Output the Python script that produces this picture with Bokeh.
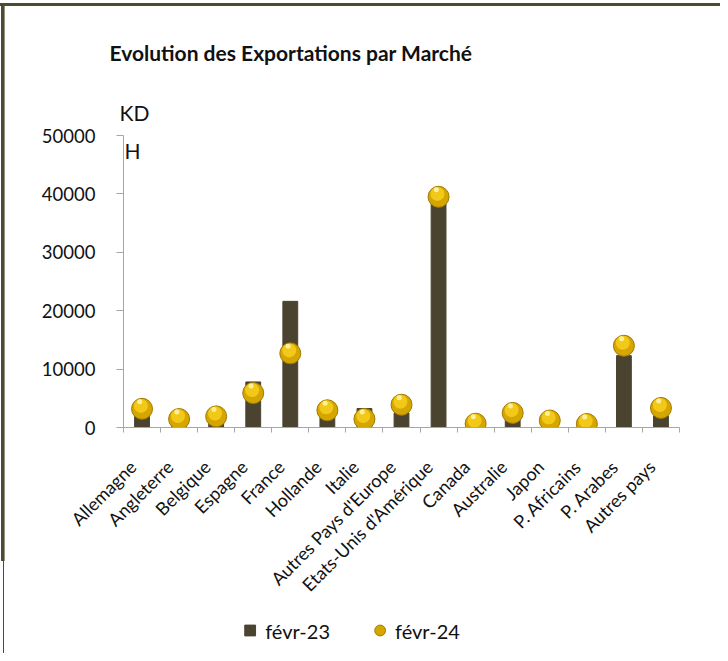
from math import pi
from bokeh.plotting import figure
from bokeh.layouts import column
from bokeh.models import (Range1d, LinearAxis, FixedTicker, Legend, LegendItem, Label, Title,
                          ColumnDataSource)
from bokeh.transform import dodge
from bokeh.embed import file_html
from bokeh.resources import INLINE

# ---- data ----
markets = ["Allemagne", "Angleterre", "Belgique", "Espagne", "France", "Hollande", "Italie",
           "Autres Pays d'Europe", "Etats-Unis d'Amérique", "Canada", "Australie", "Japon",
           "P. Africains", "P. Arabes", "Autres pays"]
feb23 = [2200, 900, 1100, 7800, 21600, 1800, 3250, 2500, 38800, 350, 1500, 450, 250, 12300, 2000]
feb24 = [3200, 1450, 1900, 5900, 12700, 2950, 1450, 3900, 39500, 650, 2500, 1200, 600, 14000, 3350]
y_ticks = [0, 10000, 20000, 30000, 40000, 50000]
series_names = ["févr-23", "févr-24"]
title_text = "Evolution des Exportations par Marché"
unit_top, unit_bottom = "KD", "H"

FONT = "Lato"
BAR = "#4a4330"
AXIS = "#a6a6a6"
TXT = "#111111"
FRAME = "#4f4b30"
GOLD = dict(fill_color="#d6a600", line_color="#a07a00", line_width=1)

n = len(markets)
slot = list(range(n))
src = ColumnDataSource(dict(slot=slot, market=markets, feb23=feb23, feb24=feb24))

W, H_MAIN, H_LEG = 720, 607, 46

p = figure(x_range=Range1d(0, n), y_range=Range1d(0, y_ticks[-1]),
           width=W, height=H_MAIN, output_backend="svg", toolbar_location=None,
           x_axis_location=None, y_axis_location="left",
           min_border_left=123, min_border_right=41, min_border_top=135, min_border_bottom=180)
p.outline_line_color = None
p.xgrid.visible = False
p.ygrid.visible = False
p.background_fill_color = "white"
p.border_fill_color = None

# chart title (outer) and unit "KD" (nearest the frame)
p.title.text = title_text
p.title.text_font = FONT
p.title.text_font_size = "21px"
p.title.text_font_style = "bold"
p.title.text_color = TXT
p.title.align = "left"
p.title.offset = -14
p.title.standoff = 46
p.add_layout(Title(text=unit_top, text_font=FONT, text_font_size="21px", text_font_style="normal",
                   text_color=TXT, align="left", offset=-4, standoff=21), "above")

# "H" just under the top of the axis
p.add_layout(Label(x=124, y=150, x_units="canvas", y_units="canvas", text=unit_bottom,
                   text_font=FONT, text_font_size="21px", text_color=TXT,
                   text_baseline="alphabetic"))

# y axis
ya = p.yaxis[0]
ya.ticker = FixedTicker(ticks=y_ticks)
ya.axis_line_color = AXIS
ya.major_tick_line_color = AXIS
ya.major_tick_out = 7
ya.major_tick_in = 0
ya.minor_tick_line_color = None
ya.major_label_text_font = FONT
ya.major_label_text_font_size = "18.5px"
ya.major_label_text_color = TXT
ya.major_label_standoff = 21

# x axis: tick marks at category boundaries, labels under the categories
tick_axis = LinearAxis(ticker=FixedTicker(ticks=list(range(n + 1))),
                       axis_line_color=AXIS, major_tick_line_color=AXIS, major_tick_out=5,
                       major_tick_in=0, minor_tick_line_color=None, major_label_text_color=None,
                       major_label_text_font_size="1px", major_label_standoff=0)
p.add_layout(tick_axis, "below")
label_pos = [i + 0.25 for i in slot]
label_axis = LinearAxis(ticker=FixedTicker(ticks=label_pos),
                        major_label_overrides={c: m for c, m in zip(label_pos, markets)},
                        axis_line_color=None, major_tick_line_color=None, minor_tick_line_color=None,
                        major_label_orientation=pi / 4, major_label_text_font=FONT,
                        major_label_text_font_size="18px", major_label_text_color=TXT,
                        major_label_standoff=25)
p.add_layout(label_axis, "below")

# bars
xc = dodge("slot", 0.5, range=p.x_range)
bars = p.vbar(x=xc, top="feb23", width=0.4, source=src, fill_color=BAR, line_color=BAR)

# gold spheres (layered circles)
s1 = p.scatter(x=xc, y="feb24", size=21, source=src, **GOLD)
s2 = p.scatter(x=dodge("slot", 0.47, range=p.x_range), y=dodge("feb24", 500, range=p.y_range),
               size=14, source=src, fill_color="#f2c918", line_color=None)
s3 = p.scatter(x=dodge("slot", 0.44, range=p.x_range), y=dodge("feb24", 1200, range=p.y_range),
               size=5, source=src, fill_color="#fff3a8", line_color=None, fill_alpha=0.9)

# ---- legend strip (separate small figure under the chart) ----
lf = figure(width=614, height=H_LEG, output_backend="svg", toolbar_location=None,
            x_axis_location=None, y_axis_location=None, x_range=Range1d(0, 1), y_range=Range1d(0, 1),
            min_border_left=0, min_border_right=0, min_border_top=0, min_border_bottom=0)
lf.outline_line_color = None
lf.xgrid.visible = False
lf.ygrid.visible = False
lf.background_fill_color = None
lf.border_fill_color = None
# proxies for the legend icons (their data lie outside this strip's ranges, so only the icons show)
leg_sq = lf.scatter(x="slot", y="feb23", source=src, marker="square", fill_color=BAR, line_color=BAR)
leg_sp = lf.scatter(x="slot", y="feb24", source=src, marker="circle", **GOLD)
legend = Legend(items=[LegendItem(label=series_names[0], renderers=[leg_sq]),
                       LegendItem(label=series_names[1], renderers=[leg_sp])],
                orientation="horizontal", location="center", border_line_color=None,
                background_fill_alpha=0, label_text_font=FONT, label_text_font_size="20px",
                label_text_color=TXT, glyph_width=27, glyph_height=27, spacing=36,
                padding=0, margin=0, label_standoff=2)
lf.add_layout(legend, "center")

frame_css = {
    "background-color": "white",
    "background-image": ("linear-gradient(%s,%s), linear-gradient(%s,%s), linear-gradient(%s,%s)"
                         % (FRAME, FRAME, FRAME, FRAME, FRAME, FRAME)),
    "background-size": "720px 3px, 3.6px 558px, 1.4px 92px",
    "background-position": "0px 3px, 1px 3px, 3.3px 561px",
    "background-repeat": "no-repeat",
}
layout = column(p, lf, spacing=0, styles=frame_css)

open("out.html", "w").write(file_html(layout, INLINE))
